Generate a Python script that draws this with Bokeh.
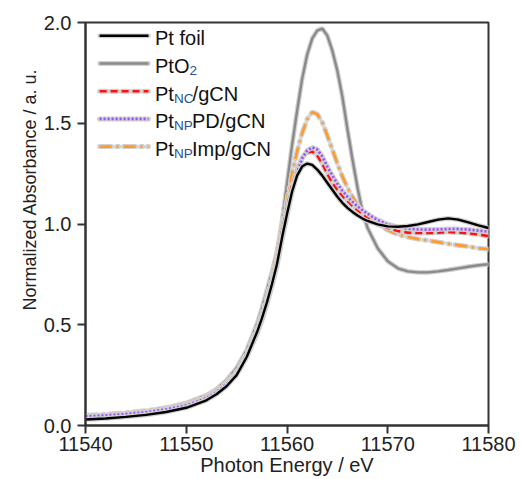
from bokeh.plotting import figure
from bokeh.models import Range1d, Label, Title, FixedTicker, NumeralTickFormatter
from bokeh.embed import file_html
from bokeh.resources import INLINE

# ---------------- data ----------------
energy = [11540, 11542, 11544, 11546, 11548, 11550, 11552, 11553, 11554, 11555,
          11556, 11557, 11557.5, 11558, 11558.5, 11559, 11559.5, 11560, 11560.5, 11561,
          11561.5, 11562, 11562.5, 11563, 11563.5, 11564, 11564.5, 11565, 11565.5, 11566,
          11566.5, 11567, 11567.5, 11568, 11569, 11570, 11571, 11572, 11573, 11574,
          11575, 11576, 11577, 11578, 11579, 11580]

pt_foil = [0.030, 0.035, 0.043, 0.053, 0.067, 0.088, 0.125, 0.155, 0.195, 0.250,
           0.340, 0.460, 0.530, 0.610, 0.700, 0.800, 0.930, 1.050, 1.160, 1.240,
           1.285, 1.300, 1.293, 1.270, 1.240, 1.205, 1.170, 1.135, 1.105, 1.080,
           1.060, 1.042, 1.027, 1.015, 0.998, 0.988, 0.986, 0.990, 0.998, 1.010,
           1.022, 1.028, 1.022, 1.008, 0.993, 0.980]

pto2 = [0.040, 0.048, 0.058, 0.070, 0.087, 0.112, 0.150, 0.180, 0.225, 0.285,
        0.375, 0.500, 0.580, 0.670, 0.760, 0.860, 1.010, 1.200, 1.390, 1.560,
        1.720, 1.840, 1.920, 1.960, 1.970, 1.935, 1.860, 1.760, 1.630, 1.470,
        1.320, 1.180, 1.060, 0.980, 0.880, 0.815, 0.780, 0.765, 0.760, 0.760,
        0.765, 0.772, 0.780, 0.788, 0.795, 0.800]

pt_nc = [0.045, 0.050, 0.058, 0.068, 0.083, 0.103, 0.140, 0.170, 0.210, 0.262,
         0.350, 0.465, 0.540, 0.620, 0.715, 0.820, 0.960, 1.080, 1.190, 1.270,
         1.330, 1.355, 1.360, 1.340, 1.300, 1.250, 1.205, 1.170, 1.140, 1.115,
         1.090, 1.070, 1.050, 1.030, 1.000, 0.980, 0.965, 0.957, 0.955, 0.955,
         0.957, 0.960, 0.958, 0.954, 0.948, 0.940]

pt_np_pd = [0.045, 0.050, 0.057, 0.066, 0.080, 0.100, 0.135, 0.165, 0.205, 0.255,
            0.340, 0.450, 0.520, 0.600, 0.690, 0.790, 0.920, 1.040, 1.160, 1.255,
            1.325, 1.365, 1.380, 1.370, 1.335, 1.285, 1.240, 1.200, 1.165, 1.135,
            1.110, 1.088, 1.068, 1.050, 1.020, 0.998, 0.985, 0.977, 0.973, 0.972,
            0.973, 0.975, 0.975, 0.972, 0.967, 0.962]

pt_np_imp = [0.050, 0.055, 0.063, 0.073, 0.088, 0.108, 0.145, 0.175, 0.215, 0.270,
             0.360, 0.480, 0.555, 0.640, 0.735, 0.850, 0.990, 1.120, 1.250, 1.360,
             1.450, 1.520, 1.555, 1.545, 1.505, 1.440, 1.370, 1.300, 1.235, 1.180,
             1.135, 1.095, 1.062, 1.035, 1.000, 0.970, 0.948, 0.935, 0.925, 0.918,
             0.910, 0.902, 0.895, 0.888, 0.880, 0.875]

x_ticks = [11540, 11550, 11560, 11570, 11580]
y_ticks = [0.0, 0.5, 1.0, 1.5, 2.0]

# legend rows: (main text, subscript, rest)
legend_rows = [("Pt foil", "", ""),
               ("PtO", "2", ""),
               ("Pt", "NC", "/gCN"),
               ("Pt", "NP", "PD/gCN"),
               ("Pt", "NP", "Imp/gCN")]

# ---------------- styles ----------------
FONT = "Liberation Sans"
HALO = "#d0d0d0"
styles = [  # series order for drawing: (data, color, width, dash)
    (pto2, "#8a8a8a", 2.4, "solid"),
    (pt_np_imp, "#ff9b2a", 2.6, "12 5 2 5"),
    (pt_nc, "#ff1010", 2.6, "7 4"),
    (pt_np_pd, "#9b4dff", 2.6, "2 2"),
    (pt_foil, "#000000", 2.4, "solid"),
]
legend_styles = [styles[4], styles[0], styles[2], styles[3], styles[1]]

p = figure(width=518, height=478, output_backend="svg", toolbar_location=None,
           x_range=Range1d(11540, 11580), y_range=Range1d(0, 2.0),
           min_border_left=85, min_border_right=30, min_border_top=22,
           min_border_bottom=53)
p.background_fill_color = "white"
p.border_fill_color = "white"
p.grid.visible = False
p.outline_line_color = "#333333"
p.outline_line_width = 2

for data, color, lw, dash in styles:
    p.line(energy, data, line_color=HALO, line_width=lw + 2.4, line_dash=dash,
           line_cap="round")
    p.line(energy, data, line_color=color, line_width=lw, line_dash=dash)

# axes
for ax in (p.xaxis[0], p.yaxis[0]):
    ax.axis_line_color = "#333333"
    ax.axis_line_width = 2
    ax.major_tick_line_color = "#333333"
    ax.major_tick_line_width = 2
    ax.major_tick_in = 0
    ax.major_tick_out = 8
    ax.minor_tick_line_color = None
    ax.major_label_text_font = FONT
    ax.major_label_text_font_size = "20px"
    ax.major_label_text_color = "#222222"
    ax.axis_label_text_font = FONT
    ax.axis_label_text_font_style = "normal"
    ax.axis_label_text_color = "#222222"

p.xaxis.ticker = FixedTicker(ticks=x_ticks)
p.yaxis.ticker = FixedTicker(ticks=y_ticks)
p.yaxis.formatter = NumeralTickFormatter(format="0.0")
p.xaxis.formatter = NumeralTickFormatter(format="0")
p.xaxis.major_label_standoff = 3
p.yaxis.major_label_standoff = 6

p.xaxis.axis_label = "Photon Energy / eV"
p.xaxis.axis_label_text_font_size = "20px"
p.xaxis.axis_label_standoff = 0

# y-axis title: placed above the centre of the axis, like the reference
p.add_layout(Title(text="Normalized Absorbance / a. u.", align="right", offset=46,
                   text_font=FONT, text_font_size="18px", text_font_style="normal",
                   text_color="#222222", standoff=2), "left")

# ---------------- manual legend ----------------
leg_x0, leg_x1 = 11541.4, 11546.25
text_x = 11546.9
base_top = 1.922
row_step = 0.1375
for i, ((main, sub, rest), (data, color, lw, dash)) in enumerate(zip(legend_rows, legend_styles)):
    yb = base_top - i * row_step
    yl = yb + 0.012
    p.line([leg_x0, leg_x1], [yl, yl], line_color=HALO, line_width=lw + 2.4,
           line_dash=dash, line_cap="round")
    p.line([leg_x0, leg_x1], [yl, yl], line_color=color, line_width=lw, line_dash=dash)
    p.add_layout(Label(x=text_x, y=yb, text=main, text_font=FONT,
                       text_font_size="20px", text_baseline="alphabetic",
                       text_color="#111111"))
    main_w = {"PtO": 34.5, "Pt": 19.0}.get(main, 0)
    if sub:
        p.add_layout(Label(x=text_x, y=yb, x_offset=main_w, y_offset=-4.5, text=sub,
                           text_font=FONT, text_font_size="13.5px",
                           text_baseline="alphabetic", text_color="#2a4f8f"))
        sub_w = {"NC": 18.6, "NP": 18.0, "2": 7.5}[sub]
        if rest:
            p.add_layout(Label(x=text_x, y=yb, x_offset=main_w + sub_w, text=rest,
                               text_font=FONT, text_font_size="20px",
                               text_baseline="alphabetic", text_color="#111111"))

open("out.html", "w").write(file_html(p, INLINE))
